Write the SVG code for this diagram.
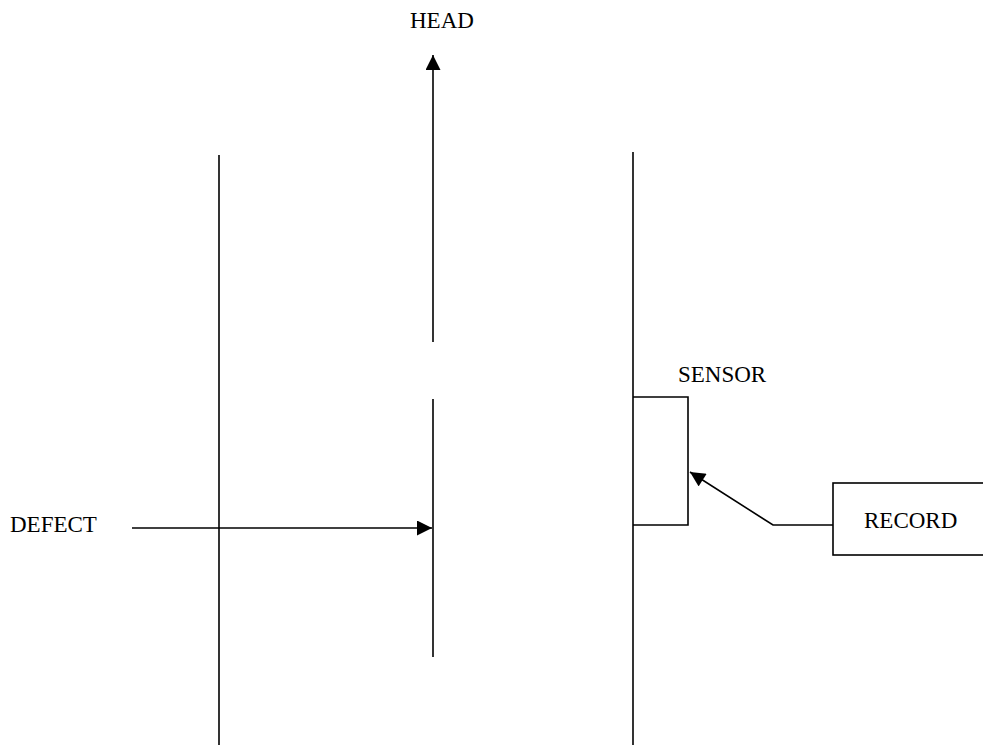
<svg xmlns="http://www.w3.org/2000/svg" width="983" height="755" viewBox="0 0 983 755">
<style>
.ln{stroke:#000;stroke-width:1.6;fill:none}
.bx{stroke:#000;stroke-width:1.6;fill:#fff}
text{font-family:"Liberation Serif","Times New Roman",serif;font-size:23px;fill:#000}
</style>
<defs>
<marker id="ah" viewBox="0 0 10 10" refX="10" refY="5" markerWidth="16" markerHeight="15" markerUnits="userSpaceOnUse" orient="auto">
<path d="M0,0 L10,5 L0,10 Z" fill="#000"/>
</marker>
</defs>
<rect width="983" height="755" fill="#fff"/>
<g id="walls">
<line class="ln" x1="219" y1="155" x2="219" y2="745"/>
<line class="ln" x1="633" y1="152" x2="633" y2="745"/>
<line class="ln" x1="433" y1="399" x2="433" y2="657"/>
</g>
<g id="head"><text x="410" y="28">HEAD</text></g>
<g id="defect"><text x="10" y="532">DEFECT</text></g>
<g id="sensor">
<path class="ln" d="M633,397 H688 V525 H633"/>
<text x="678" y="382">SENSOR</text>
</g>
<g id="record">
<rect class="bx" x="833" y="483" width="160" height="72"/>
<text x="864" y="528">RECORD</text>
</g>
<g id="connectors">
<line class="ln" x1="433" y1="342" x2="433" y2="55" marker-end="url(#ah)"/>
<line class="ln" x1="132" y1="528" x2="432" y2="528" marker-end="url(#ah)"/>
<path class="ln" d="M833,525 H773 L690,472" marker-end="url(#ah)"/>
</g>
</svg>
